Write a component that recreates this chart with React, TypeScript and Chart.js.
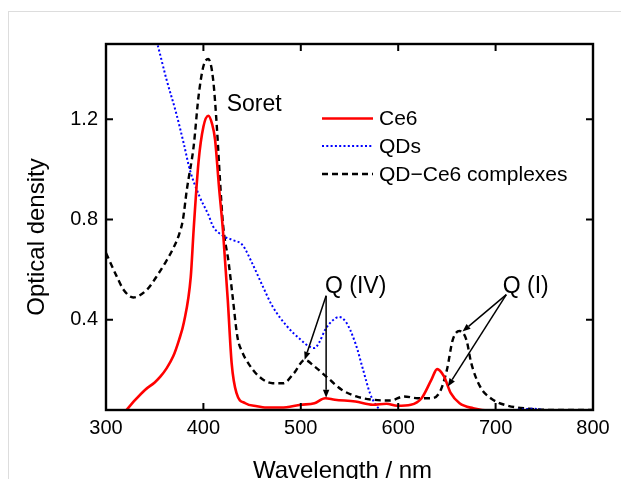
import React, { useEffect, useRef } from 'react';
import { Chart, registerables } from 'chart.js';

Chart.register(...registerables);

// ---- Data ----
const seriesNames = ['Ce6', 'QDs', 'QD\u2212Ce6 complexes'];

const ce6Wavelengths = [320, 330, 340, 350, 356, 362, 369, 375, 380, 387, 390, 395, 400, 405, 409, 412, 416, 420, 425, 429, 434, 443, 455, 465, 480, 500, 514, 525, 535, 556, 574, 588, 599, 613, 624, 634, 640, 647, 654, 663, 677, 695, 720, 760, 800];
const ce6Values = [0.035, 0.08, 0.12, 0.15, 0.174, 0.205, 0.254, 0.32, 0.39, 0.57, 0.76, 1.03, 1.17, 1.214, 1.18, 1.118, 0.93, 0.76, 0.48, 0.227, 0.107, 0.067, 0.055, 0.05, 0.05, 0.061, 0.067, 0.087, 0.081, 0.074, 0.061, 0.065, 0.057, 0.061, 0.087, 0.16, 0.203, 0.174, 0.107, 0.067, 0.047, 0.037, 0.036, 0.036, 0.036];

const qdWavelengths = [345, 353, 362, 372, 380, 386, 396, 405, 410, 420, 430, 440, 450, 461, 471, 486, 500, 508, 514, 519, 525, 532, 539, 546, 556, 564, 571, 577, 582, 590, 620, 660, 700, 725, 740, 755, 800];
const qdValues = [1.61, 1.497, 1.36, 1.225, 1.1, 0.999, 0.892, 0.82, 0.772, 0.735, 0.718, 0.699, 0.626, 0.533, 0.453, 0.373, 0.32, 0.295, 0.287, 0.31, 0.36, 0.395, 0.411, 0.393, 0.307, 0.2, 0.107, 0.06, 0.041, 0.034, 0.034, 0.035, 0.034, 0.042, 0.045, 0.036, 0.034];

const complexWavelengths = [300, 311, 318, 328, 342, 354, 362, 369, 375, 379, 383, 390, 395, 400, 405, 410, 414, 417, 420, 426, 430, 435, 440, 446, 457, 471, 482, 493, 504, 514, 528, 542, 557, 574, 592, 606, 620, 634, 643, 650, 656, 663, 670, 675, 684, 695, 709, 734, 770, 800];
const complexValues = [0.666, 0.573, 0.52, 0.489, 0.52, 0.585, 0.635, 0.685, 0.74, 0.8, 0.919, 1.092, 1.291, 1.411, 1.44, 1.358, 1.158, 0.959, 0.786, 0.626, 0.493, 0.33, 0.27, 0.227, 0.174, 0.147, 0.147, 0.187, 0.24, 0.214, 0.167, 0.121, 0.094, 0.081, 0.078, 0.094, 0.087, 0.087, 0.114, 0.2, 0.32, 0.355, 0.32, 0.227, 0.134, 0.087, 0.061, 0.045, 0.04, 0.04];

const xTickValues = [300, 400, 500, 600, 700, 800];
const yTickValues = [0.4, 0.8, 1.2];

const annotationLabels = ['Soret', 'Q (IV)', 'Q (I)'];

// ---- Styling ----
const FONT = '"Liberation Sans", Arial, Helvetica, sans-serif';
const W = 621;
const H = 479;

const toPoints = (xs: number[], ys: number[]) => xs.map((x, i) => ({ x, y: ys[i] }));

function drawArrow(ctx: CanvasRenderingContext2D, x1: number, y1: number, x2: number, y2: number) {
  const ang = Math.atan2(y2 - y1, x2 - x1);
  const len = 8;
  const hw = 3.2;
  const bx = x2 - len * Math.cos(ang);
  const by = y2 - len * Math.sin(ang);
  ctx.beginPath();
  ctx.moveTo(x1, y1);
  ctx.lineTo(bx, by);
  ctx.stroke();
  ctx.beginPath();
  ctx.moveTo(x2, y2);
  ctx.lineTo(bx + hw * Math.sin(ang), by - hw * Math.cos(ang));
  ctx.lineTo(bx - hw * Math.sin(ang), by + hw * Math.cos(ang));
  ctx.closePath();
  ctx.fill();
}

const framePlugin = {
  id: 'frameAndNotes',
  afterDatasetsDraw(chart: any) {
    const { ctx, chartArea: a, scales } = chart;
    const xs = scales.x;
    const ys = scales.y;
    const px = (v: number) => xs.getPixelForValue(v);
    const py = (v: number) => ys.getPixelForValue(v);
    ctx.save();

    // frame
    ctx.strokeStyle = '#000';
    ctx.lineWidth = 2.4;
    ctx.setLineDash([]);
    ctx.strokeRect(a.left, a.top, a.right - a.left, a.bottom - a.top);

    // inward ticks on all four sides
    const tl = 7;
    ctx.lineWidth = 2;
    ctx.beginPath();
    xTickValues.forEach((v) => {
      const p = px(v);
      ctx.moveTo(p, a.bottom);
      ctx.lineTo(p, a.bottom - tl);
      ctx.moveTo(p, a.top);
      ctx.lineTo(p, a.top + tl);
    });
    yTickValues.forEach((v) => {
      const p = py(v);
      ctx.moveTo(a.left, p);
      ctx.lineTo(a.left + tl, p);
      ctx.moveTo(a.right, p);
      ctx.lineTo(a.right - tl, p);
    });
    ctx.stroke();

    // legend
    const ds = chart.data.datasets;
    const lx = a.left + 216;
    const rows = [74.5, 102, 130];
    ctx.font = `21px ${FONT}`;
    ctx.textBaseline = 'middle';
    ctx.textAlign = 'left';
    ds.forEach((d: any, i: number) => {
      const yy = a.top + rows[i];
      ctx.save();
      ctx.strokeStyle = d.borderColor;
      ctx.lineWidth = d.borderWidth;
      ctx.setLineDash(d.borderDash || []);
      ctx.beginPath();
      ctx.moveTo(lx, yy);
      ctx.lineTo(lx + 51, yy);
      ctx.stroke();
      ctx.restore();
      ctx.fillStyle = '#000';
      ctx.fillText(d.label, lx + 57, yy + 1);
    });

    // annotations
    ctx.fillStyle = '#000';
    ctx.strokeStyle = '#000';
    ctx.font = `23px ${FONT}`;
    ctx.textBaseline = 'alphabetic';
    ctx.textAlign = 'left';
    ctx.fillText(annotationLabels[0], px(423.9), py(1.234));
    ctx.fillText(annotationLabels[1], px(524.8), py(0.508));
    ctx.fillText(annotationLabels[2], px(707.3), py(0.508));

    ctx.lineWidth = 1.5;
    drawArrow(ctx, px(526), py(0.496), px(504), py(0.24));
    drawArrow(ctx, px(526), py(0.496), px(526), py(0.089));
    drawArrow(ctx, px(711), py(0.5), px(666), py(0.353));
    drawArrow(ctx, px(711), py(0.5), px(651), py(0.134));

    // axis titles
    ctx.font = `24px ${FONT}`;
    ctx.textAlign = 'center';
    ctx.textBaseline = 'alphabetic';
    ctx.fillText('Wavelength / nm', 342.5, 477.5);
    ctx.save();
    ctx.translate(43.5, 237);
    ctx.rotate(-Math.PI / 2);
    ctx.fillText('Optical density', 0, 0);
    ctx.restore();

    ctx.restore();
  },
};

export default function App() {
  const ref = useRef<HTMLCanvasElement | null>(null);

  useEffect(() => {
    if (!ref.current) return;
    const chart = new Chart(ref.current, {
      type: 'line',
      data: {
        datasets: [
          {
            label: seriesNames[0],
            data: toPoints(ce6Wavelengths, ce6Values),
            borderColor: '#ff0000',
            borderWidth: 2.6,
            pointRadius: 0,
            cubicInterpolationMode: 'monotone',
            fill: false,
          },
          {
            label: seriesNames[1],
            data: toPoints(qdWavelengths, qdValues),
            borderColor: '#0000ff',
            borderWidth: 2,
            borderDash: [2, 2.3],
            pointRadius: 0,
            cubicInterpolationMode: 'monotone',
            fill: false,
          },
          {
            label: seriesNames[2],
            data: toPoints(complexWavelengths, complexValues),
            borderColor: '#000000',
            borderWidth: 2.4,
            borderDash: [6, 4],
            pointRadius: 0,
            cubicInterpolationMode: 'monotone',
            fill: false,
          },
        ],
      } as any,
      options: {
        animation: false,
        responsive: false,
        maintainAspectRatio: false,
        devicePixelRatio: 1,
        layout: { padding: { top: 44, right: 28, left: 0, bottom: 0 } },
        plugins: {
          legend: { display: false },
          tooltip: { enabled: false },
        },
        scales: {
          x: {
            type: 'linear',
            min: 300,
            max: 800,
            grid: { display: false, drawTicks: false },
            border: { display: false },
            afterBuildTicks: (s: any) => {
              s.ticks = xTickValues.map((v) => ({ value: v }));
            },
            afterFit: (s: any) => {
              s.height = H - 410;
            },
            ticks: {
              autoSkip: false,
              maxRotation: 0,
              padding: 6,
              color: '#000',
              font: { family: FONT, size: 20 },
              callback: (v: any) => String(v),
            },
          },
          y: {
            type: 'linear',
            min: 0.04,
            max: 1.5,
            grid: { display: false, drawTicks: false },
            border: { display: false },
            afterBuildTicks: (s: any) => {
              s.ticks = yTickValues.map((v) => ({ value: v }));
            },
            afterFit: (s: any) => {
              s.width = 106;
            },
            ticks: {
              autoSkip: false,
              padding: 8,
              color: '#000',
              font: { family: FONT, size: 20 },
              callback: (v: any) => Number(v).toFixed(1),
            },
          },
        },
      } as any,
      plugins: [framePlugin],
    });
    return () => chart.destroy();
  }, []);

  return (
    <div style={{ position: 'fixed', left: 0, top: 0, width: W, height: H, overflow: 'hidden', background: '#fff' }}>
      <div
        style={{
          position: 'absolute',
          left: 8,
          top: 11,
          width: 700,
          height: 600,
          border: '1px solid #dddddd',
          boxSizing: 'border-box',
        }}
      />
      <canvas ref={ref} width={W} height={H} style={{ position: 'absolute', left: 0, top: 0, width: W, height: H }} />
    </div>
  );
}
